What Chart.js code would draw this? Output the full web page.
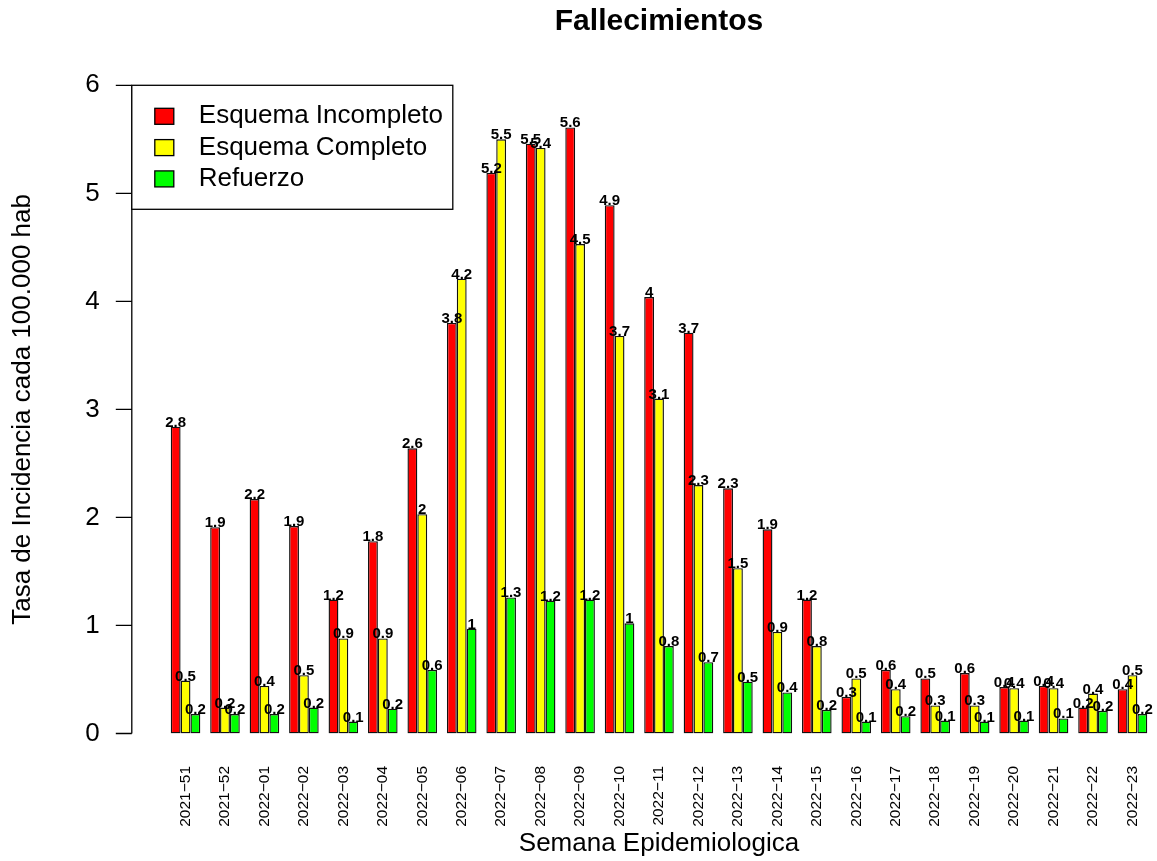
<!DOCTYPE html>
<html>
<head>
<meta charset="utf-8">
<script src="https://cdn.jsdelivr.net/npm/chart.js@4"></script>
<style>
  html, body { margin: 0; padding: 0; background: #ffffff; }
  #wrap { width: 1157px; height: 861px; }
</style>
</head>
<body>
<div id="wrap"><canvas id="graph1"></canvas></div>
<script>
const semanas = ['2021−51', '2021−52', '2022−01', '2022−02', '2022−03', '2022−04', '2022−05', '2022−06',
    '2022−07', '2022−08', '2022−09', '2022−10', '2022−11', '2022−12', '2022−13', '2022−14', '2022−15',
    '2022−16', '2022−17', '2022−18', '2022−19', '2022−20', '2022−21', '2022−22', '2022−23'];
const incompleto = [2.84, 1.91, 2.17, 1.92, 1.24, 1.78, 2.64, 3.80, 5.19, 5.46, 5.61, 4.89, 4.04,
    3.71, 2.27, 1.89, 1.24, 0.34, 0.59, 0.51, 0.56, 0.43, 0.44, 0.24, 0.41];
const completo = [0.49, 0.24, 0.44, 0.54, 0.88, 0.88, 2.03, 4.21, 5.50, 5.42, 4.53, 3.68, 3.10,
    2.30, 1.53, 0.94, 0.81, 0.51, 0.41, 0.26, 0.26, 0.42, 0.42, 0.37, 0.54];
const refuerzo = [0.18, 0.18, 0.18, 0.24, 0.11, 0.23, 0.59, 0.97, 1.26, 1.23, 1.24, 1.02, 0.81,
    0.66, 0.48, 0.38, 0.22, 0.11, 0.16, 0.12, 0.11, 0.12, 0.14, 0.21, 0.18];
const yTicks = [0, 1, 2, 3, 4, 5, 6];
const nombres = ['Esquema Incompleto', 'Esquema Completo', 'Refuerzo'];
const colores = ['#FF0000', '#FFFF00', '#00FF00'];

// R style: axis line a bit left of the bars, legend box at top left
const rAxis = {
    id: 'rAxis',
    afterDraw(chart) {
        const ctx = chart.ctx;
        const y = chart.scales.y;
        const ax = chart.chartArea.left - 34;
        ctx.save();
        ctx.strokeStyle = '#000000';
        ctx.lineWidth = 1.3;
        ctx.beginPath();
        ctx.moveTo(ax, y.getPixelForValue(yTicks[0]));
        ctx.lineTo(ax, y.getPixelForValue(yTicks[yTicks.length - 1]));
        yTicks.forEach(t => {
            const py = y.getPixelForValue(t);
            ctx.moveTo(ax - 16, py);
            ctx.lineTo(ax, py);
        });
        ctx.stroke();

        // legend
        const top = y.getPixelForValue(yTicks[yTicks.length - 1]);
        ctx.fillStyle = '#ffffff';
        ctx.fillRect(ax, top, 321, 124);
        ctx.strokeRect(ax, top, 321, 124);
        ctx.font = '26px "Liberation Sans", Arial, sans-serif';
        ctx.textBaseline = 'middle';
        ctx.textAlign = 'left';
        nombres.forEach((n, i) => {
            const cy = top + 31 + i * 31.3;
            ctx.fillStyle = colores[i];
            ctx.fillRect(ax + 23, cy - 8, 19, 16);
            ctx.strokeRect(ax + 23, cy - 8, 19, 16);
            ctx.fillStyle = '#000000';
            ctx.fillText(n, ax + 67, cy);
        });
        ctx.restore();
    },
    afterDatasetsDraw(chart) {
        const ctx = chart.ctx;
        ctx.save();
        ctx.fillStyle = '#000000';
        ctx.font = 'bold 15px "Liberation Sans", Arial, sans-serif';
        ctx.textAlign = 'center';
        ctx.textBaseline = 'alphabetic';
        chart.data.datasets.forEach((ds, i) => {
            chart.getDatasetMeta(i).data.forEach((bar, j) => {
                const txt = String(Number(ds.data[j].toFixed(1)));
                ctx.fillText(txt, bar.x, bar.y);
            });
        });
        ctx.restore();
    }
};

const chart1 = document.getElementById('graph1').getContext('2d');
const myChart1 = new Chart(chart1, {
    type: 'bar',
    data: {
        labels: semanas,
        datasets: [
            { label: nombres[0], data: incompleto, backgroundColor: colores[0] },
            { label: nombres[1], data: completo, backgroundColor: colores[1] },
            { label: nombres[2], data: refuerzo, backgroundColor: colores[2] }
        ].map(d => Object.assign(d, { borderColor: '#111111', borderWidth: 1.4, borderSkipped: false }))
    },
    plugins: [rAxis],
    options: {
        responsive: true,
        maintainAspectRatio: false,
        animation: false,
        categoryPercentage: 0.75,
        barPercentage: 1,
        layout: { padding: { left: 0, right: 4.8, top: 0, bottom: 0 } },
        scales: {
            x: {
                grid: { display: false, drawTicks: false },
                border: { display: false },
                ticks: {
                    color: '#000000',
                    autoSkip: false,
                    minRotation: 90,
                    maxRotation: 90,
                    padding: 32.5,
                    font: { family: '"Liberation Sans", Arial, sans-serif', size: 15.5 }
                },
                title: {
                    display: true,
                    text: 'Semana Epidemiologica',
                    color: '#000000',
                    padding: { top: 0, bottom: 2 },
                    font: { family: '"Liberation Sans", Arial, sans-serif', size: 26 }
                },
                afterFit(scale) {
                    scale.height = 127.5;
                    scale.paddingLeft = 0;
                    scale.paddingRight = 0;
                }
            },
            y: {
                min: 0,
                max: 6,
                grid: { display: false, drawTicks: false },
                border: { display: false },
                ticks: {
                    stepSize: 1,
                    color: '#000000',
                    padding: 66,
                    font: { family: '"Liberation Sans", Arial, sans-serif', size: 26 }
                },
                title: {
                    display: true,
                    text: 'Tasa de Incidencia cada 100.000 hab',
                    color: '#000000',
                    padding: { top: 7.7, bottom: 0 },
                    font: { family: '"Liberation Sans", Arial, sans-serif', size: 26 }
                },
                afterFit(scale) {
                    scale.width = 165.8;
                }
            }
        },
        plugins: {
            title: {
                display: true,
                text: 'Fallecimientos',
                color: '#000000',
                fullSize: false,
                padding: { top: 4, bottom: 45.3 },
                font: { family: '"Liberation Sans", Arial, sans-serif', size: 30, weight: 'bold' }
            },
            legend: { display: false },
            tooltip: { enabled: false }
        }
    }
});
</script>
</body>
</html>
